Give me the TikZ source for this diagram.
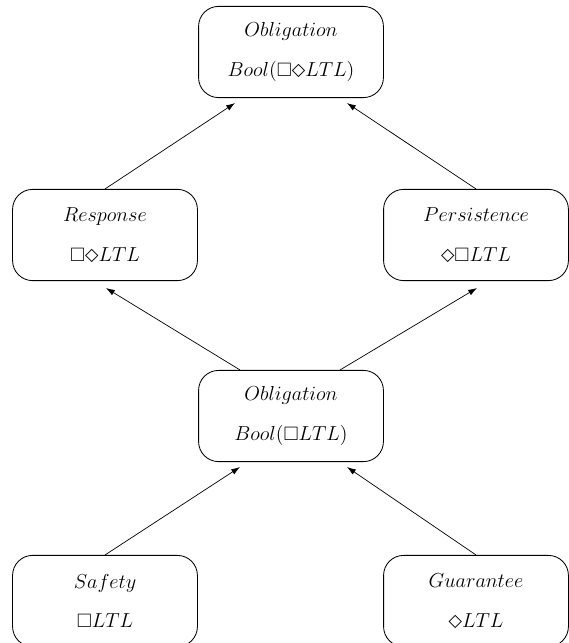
\documentclass[tikz,border=0pt]{standalone}
\usepackage{amsmath}
\usepackage{amssymb}
\usepackage{fontspec}
\newfontfamily\symfont{DejaVu Sans}
\newcommand{\dia}{\text{\symfont\raisebox{0.1ex}{\scalebox{0.9}{◇}}}}
\usetikzlibrary{calc,arrows.meta}

\begin{document}
\begin{tikzpicture}[x=0.025cm,y=-0.025cm,
    cls/.style={draw,rounded corners=0.5cm,minimum width=4.62cm,minimum height=2.28cm,align=center,line width=0.6pt,font=\fontsize{13.8}{28}\selectfont},
    up/.style={-{Latex[length=2.2mm,width=1.5mm]},line width=0.5pt}]
    \useasboundingbox(0,0) rectangle (569,643);
    \clip(0,0) rectangle (569,643);
    \node[cls] (obl) at (291,52) {$Obligation$\\$Bool(\Box\dia LTL)$};
    \node[cls] (resp) at (105,235) {$Response$\\$\Box\dia LTL$};
    \node[cls] (pers) at (476,235) {$Persistence$\\$\dia\Box LTL$};
    \node[cls] (oblb) at (291,416) {$Obligation$\\$Bool(\Box LTL)$};
    \node[cls] (safe) at (105,601) {$Safety$\\$\Box LTL$};
    \node[cls] (guar) at (476,601) {$Guarantee$\\$\dia LTL$};
    \draw[up](resp.north)--($(obl.south)+(-56,5)$);
    \draw[up](pers.north)--($(obl.south)+(56,5)$);
    \draw[up]($(oblb.north)+(-51,0)$)--($(resp.south)+(1,7)$);
    \draw[up]($(oblb.north)+(49,0)$)--($(pers.south)+(1,7)$);
    \draw[up](safe.north)--($(oblb.south)+(-51,5)$);
    \draw[up](guar.north)--($(oblb.south)+(56,5)$);
\end{tikzpicture}
\end{document}
